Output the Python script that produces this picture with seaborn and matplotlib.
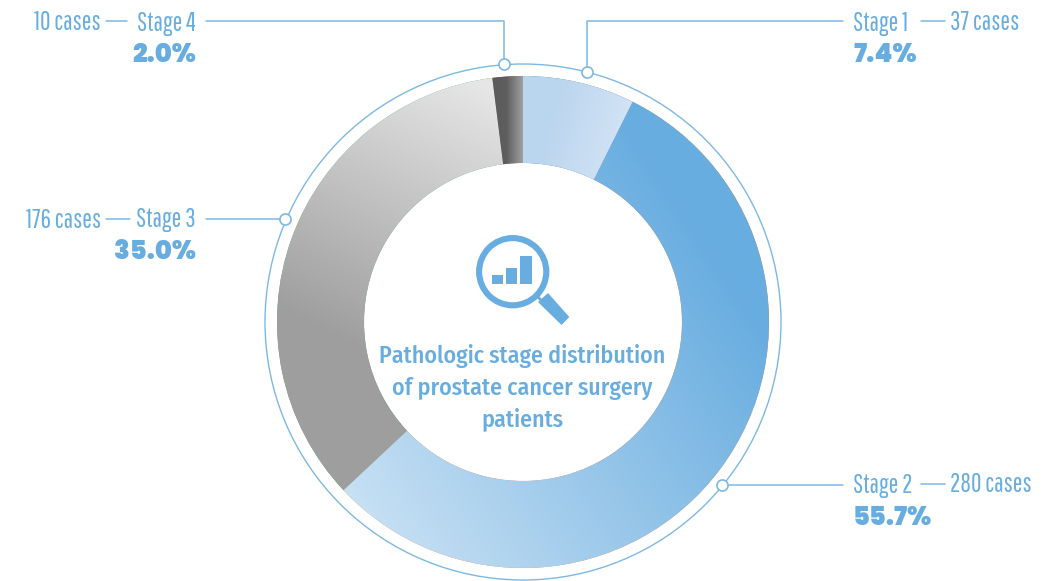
import numpy as np
import matplotlib
matplotlib.use('Agg')
import matplotlib.pyplot as plt
from matplotlib.patches import Circle, Polygon, Rectangle
import seaborn as sns

stages = ['Stage 1', 'Stage 2', 'Stage 3', 'Stage 4']
cases = [37, 280, 176, 10]
percents = ['7.4%', '55.7%', '35.0%', '2.0%']
title_lines = ['Pathologic stage distribution', 'of prostate cancer surgery', 'patients']

BLUE = '#68ADE0'
LINE = '#7DB8E4'
W, H = 1061, 581
CX, CY = 523, 322

# gradient of each wedge: colours, then start and end of the ramp in pixels
gradients = [
    (['#BAD5EE', '#D2E3F5'], (545, 130), (620, 150)),
    (['#68ADE0', '#C5DFF3'], (760, 320), (400, 560)),
    (['#E6E6E6', '#9E9E9E'], (470, 80), (340, 340)),
    (['#5A5A5A', '#5E5E5E', '#A0A0A0'], (490, 120), (523, 120)),
]

sns.set_theme(style='white')
fig = plt.figure(figsize=(W / 100, H / 100), dpi=100)
ax = fig.add_axes([0, 0, 1, 1])

wedges, _ = ax.pie(cases, center=(CX, CY), radius=246, startangle=-90, counterclock=True,
                   wedgeprops={'width': 87, 'linewidth': 0})

yy, xx = np.mgrid[0:H, 0:W] + 0.5
for wedge, (colors, p0, p1) in zip(wedges, gradients):
    dx, dy = p1[0] - p0[0], p1[1] - p0[1]
    ramp = np.clip(((xx - p0[0]) * dx + (yy - p0[1]) * dy) / (dx * dx + dy * dy), 0, 1)
    cmap = sns.blend_palette(colors, n_colors=256, as_cmap=True)
    im = ax.imshow(ramp, extent=(0, W, H, 0), cmap=cmap, vmin=0, vmax=1, zorder=2, aspect='auto')
    im.set_clip_path(wedge)

ax.add_patch(Circle((CX, CY), 258, fill=False, ec=LINE, lw=1, zorder=3))

# leader lines
leaders = [
    [(587, 72), (587, 21), (843, 21)],
    [(722, 485), (843, 485)],
    [(285, 219), (206, 219)],
    [(504, 64), (504, 21), (206, 21)],
]
short_lines = [(921, 945, 21), (921, 945, 484), (106, 130, 219), (106, 127, 21)]
for pts in leaders:
    px, py = zip(*pts)
    ax.plot(px, py, color=LINE, lw=1.1, zorder=3)
    ax.plot(px[0], py[0], 'o', ms=8, mfc='white', mec=LINE, mew=1.2, zorder=4)
for x0, x1, y in short_lines:
    ax.plot([x0, x1], [y, y], color=LINE, lw=1.1, zorder=3)

# labels: right side for stage 1 and 2, left side for stage 3 and 4
label_font = {'family': ['Pathway Gothic One', 'Barlow Condensed', 'DejaVu Sans'], 'fontsize': 18.5, 'color': BLUE}
pct_font = {'family': ['Poppins', 'Lato', 'DejaVu Sans'], 'fontsize': 18.5, 'fontweight': 900, 'color': BLUE}
label_y = [23, 485, 220, 23]
pct_y = [56, 519, 253, 56]
for i, stage in enumerate(stages):
    if i < 2:
        ax.text(853, label_y[i], stage, ha='left', va='center', **label_font)
        ax.text(950, label_y[i], f'{cases[i]} cases', ha='left', va='center', **label_font)
        ax.text(853, pct_y[i], percents[i], ha='left', va='center', **pct_font)
    else:
        ax.text(196, label_y[i], stage, ha='right', va='center', **label_font)
        ax.text(101, label_y[i], f'{cases[i]} cases', ha='right', va='center', **label_font)
        ax.text(196, pct_y[i], percents[i], ha='right', va='center', **pct_font)

# centre icon
ax.add_patch(Circle((512.7, 271.7), 33.6, fill=False, ec=BLUE, lw=4.4, zorder=5))
for x0, x1, top in [(491.7, 503, 275), (506, 517.3, 268), (520.3, 531.7, 256)]:
    ax.add_patch(Rectangle((x0, top), x1 - x0, 284 - top, fc=BLUE, ec='none', zorder=5))
ax.add_patch(Polygon([(548, 293), (569.3, 317), (561.5, 325), (538, 302)], fc=BLUE, ec='none', zorder=5))
ax.plot([536, 541], [295, 300], color=BLUE, lw=2, zorder=5)

for line, y in zip(title_lines, [356, 388, 419]):
    ax.text(522, y, line, ha='center', va='center', color=BLUE, fontsize=17.2, fontweight=500,
            family=['Fira Sans Condensed', 'Open Sans', 'DejaVu Sans'], zorder=5)

ax.set_xlim(0, W)
ax.set_ylim(H, 0)
ax.set_aspect('auto')
ax.axis('off')
fig.savefig('out.png', dpi=100, facecolor='white')
